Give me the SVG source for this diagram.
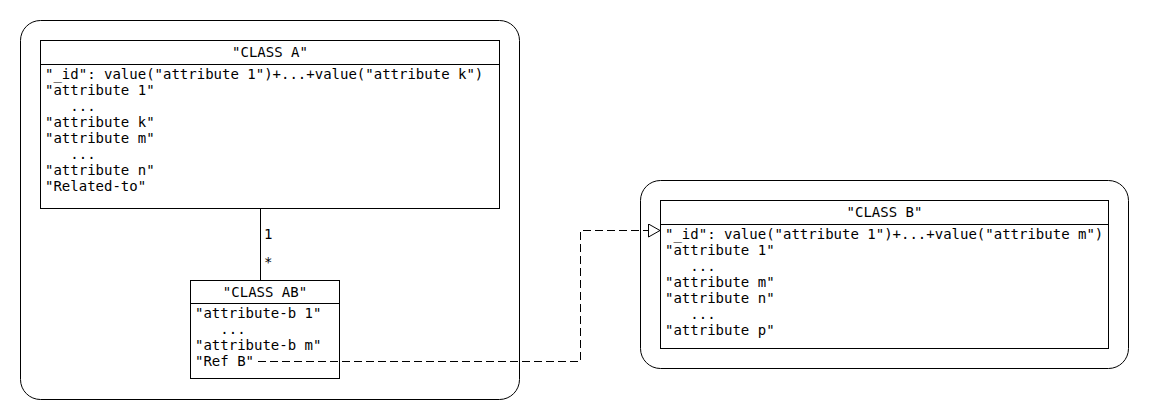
<svg xmlns="http://www.w3.org/2000/svg" width="1150" height="420" viewBox="0 0 1150 420">
  <defs>
    <style>
      .frame { fill: #ffffff; stroke: #000000; stroke-width: 1; }
      .box { fill: #ffffff; stroke: #000000; stroke-width: 1; }
      .line { fill: none; stroke: #000000; stroke-width: 1; }
      .dash { fill: none; stroke: #000000; stroke-width: 1; stroke-dasharray: 8 4; }
      text { font-family: "DejaVu Sans Mono", "Liberation Mono", monospace; font-size: 14px; fill: #000000; }
      .c { text-anchor: middle; }
    </style>
    <marker id="hollow" viewBox="0 0 14 14" refX="12" refY="7" markerWidth="14" markerHeight="14" markerUnits="userSpaceOnUse" orient="auto">
      <path d="M0.5,0.5 L12,7 L0.5,13.5 Z" fill="#ffffff" stroke="#000000" stroke-width="1"/>
    </marker>
  </defs>
  <rect width="1150" height="420" fill="#ffffff"/>

  <g id="frame-a">
    <rect class="frame" x="20.5" y="20.5" width="499" height="379" rx="20" ry="20"/>
  </g>
  <g id="frame-b">
    <rect class="frame" x="640.5" y="180.5" width="488" height="188" rx="20" ry="20"/>
  </g>

  <g id="class-a">
    <rect class="box" x="40.5" y="40.5" width="459" height="168"/>
    <line class="line" x1="40.5" y1="64.5" x2="499.5" y2="64.5"/>
    <text class="c" x="270" y="57">"CLASS A"</text>
    <text x="45" y="79">"_id": value("attribute 1")+...+value("attribute k")</text>
    <text x="45" y="95">"attribute 1"</text>
    <text x="70.3" y="111">...</text>
    <text x="45" y="127">"attribute k"</text>
    <text x="45" y="143">"attribute m"</text>
    <text x="70.3" y="159">...</text>
    <text x="45" y="175">"attribute n"</text>
    <text x="45" y="191">"Related-to"</text>
  </g>

  <g id="class-ab">
    <rect class="box" x="190.5" y="280.5" width="149" height="98"/>
    <line class="line" x1="190.5" y1="303.5" x2="339.5" y2="303.5"/>
    <text class="c" x="265" y="297">"CLASS AB"</text>
    <text x="195" y="318">"attribute-b 1"</text>
    <text x="220.3" y="334">...</text>
    <text x="195" y="350">"attribute-b m"</text>
    <text x="195" y="366">"Ref B"</text>
  </g>

  <g id="class-b">
    <rect class="box" x="660.5" y="200.5" width="448" height="148"/>
    <line class="line" x1="660.5" y1="224.5" x2="1108.5" y2="224.5"/>
    <text class="c" x="884.5" y="217">"CLASS B"</text>
    <text x="665" y="239">"_id": value("attribute 1")+...+value("attribute m")</text>
    <text x="665" y="255">"attribute 1"</text>
    <text x="690.3" y="271">...</text>
    <text x="665" y="287">"attribute m"</text>
    <text x="665" y="303">"attribute n"</text>
    <text x="690.3" y="319">...</text>
    <text x="665" y="335">"attribute p"</text>
  </g>

  <g id="connectors">
    <line class="line" x1="260.5" y1="208.5" x2="260.5" y2="280.5"/>
    <text x="264" y="239">1</text>
    <text x="264" y="267">*</text>
    <polyline class="dash" points="258,361.5 580.5,361.5 580.5,230.5 660,230.5" marker-end="url(#hollow)"/>
  </g>
</svg>
